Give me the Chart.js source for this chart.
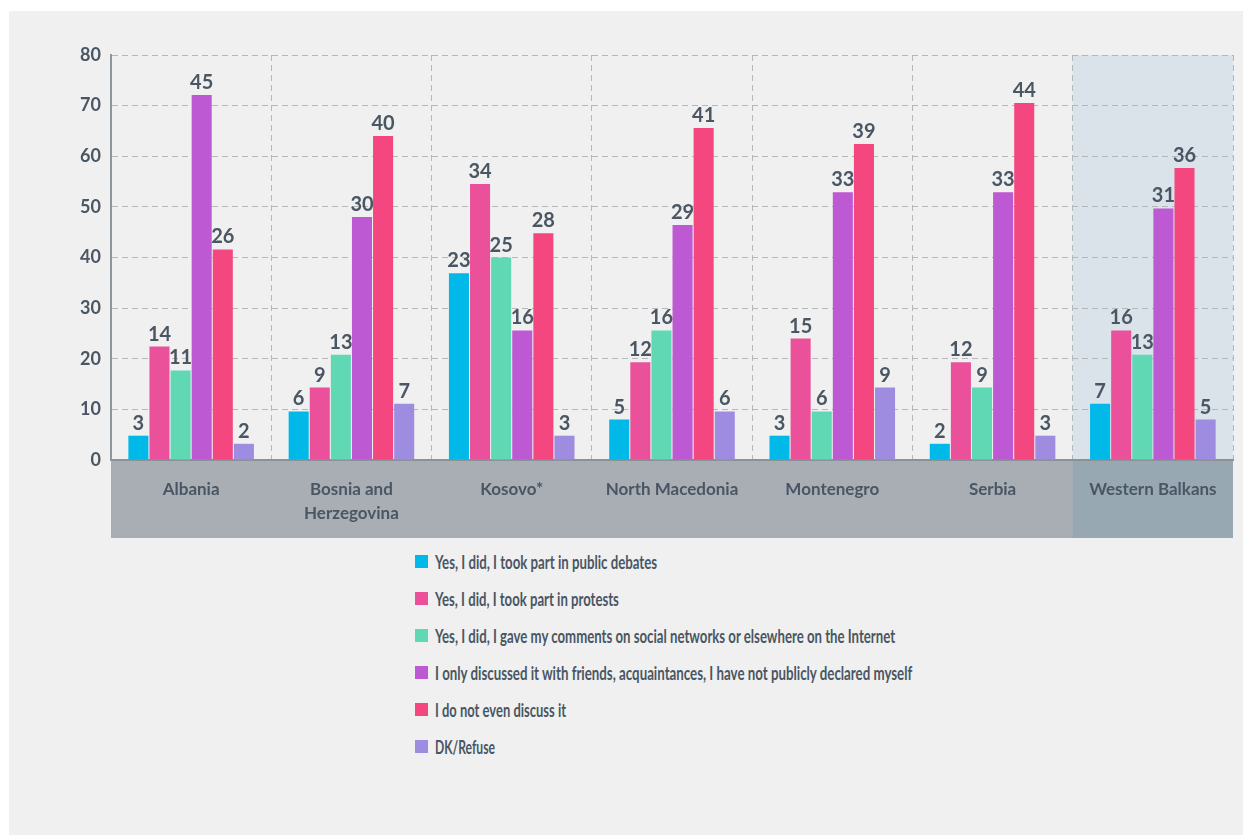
<!DOCTYPE html>
<html>
<head>
<meta charset="utf-8">
<script src="https://cdn.jsdelivr.net/npm/chart.js@4.4.1/dist/chart.umd.min.js"></script>
<style>
  html, body { margin: 0; padding: 0; background: #ffffff; }
  #panel { position: absolute; left: 9px; top: 11px; width: 1234px; height: 824px; background: #eff0ef; }
  #wrap { position: absolute; left: 0; top: 0; width: 1234px; height: 527px; }
  #legend { position: absolute; left: 406px; top: 532px; list-style: none; margin: 0; padding: 0;
            font-family: Lato, sans-serif; font-weight: bold;
            font-size: 18px; color: #4a5663; }
  #legend li { height: 37px; display: flex; align-items: center; white-space: nowrap; }
  #legend span.box { display: inline-block; width: 13px; height: 13px; margin-right: 7px; flex: none; }
  #legend span.txt { display: inline-block; transform-origin: left center; }
</style>
</head>
<body>
<div id="panel">
  <div id="wrap"><canvas id="myChart"></canvas></div>
  <ul id="legend"></ul>
</div>
<script>
const categories = ['Albania', ['Bosnia and', 'Herzegovina'], 'Kosovo*', 'North Macedonia', 'Montenegro', 'Serbia', 'Western Balkans'];
const seriesNames = [
  'Yes, I did, I took part in public debates',
  'Yes, I did, I took part in protests',
  'Yes, I did, I gave my comments on social networks or elsewhere on the Internet',
  'I only discussed it with friends, acquaintances, I have not publicly declared myself',
  'I do not even discuss it',
  'DK/Refuse'
];
const colors = ['#00b9e9', '#ea519a', '#60d8b4', '#bd59d2', '#f4477f', '#9d8ce0'];

// printed values (labels above the bars)
const debatesPct   = [3, 6, 23, 5, 3, 2, 7];
const protestsPct  = [14, 9, 34, 12, 15, 12, 16];
const commentsPct  = [11, 13, 25, 16, 6, 9, 13];
const friendsPct   = [45, 30, 16, 29, 33, 33, 31];
const noDiscussPct = [26, 40, 28, 41, 39, 44, 36];
const dkPct        = [2, 7, 3, 6, 9, 3, 5];

// bar heights as read against the 0-80 axis
const debatesBar   = [4.8, 9.6, 36.9, 8.0, 4.8, 3.2, 11.1];
const protestsBar  = [22.4, 14.3, 54.5, 19.3, 24.0, 19.3, 25.6];
const commentsBar  = [17.7, 20.8, 40.0, 25.6, 9.6, 14.3, 20.8];
const friendsBar   = [72.1, 48.0, 25.6, 46.4, 52.9, 52.9, 49.7];
const noDiscussBar = [41.6, 64.0, 44.8, 65.6, 62.4, 70.5, 57.7];
const dkBar        = [3.2, 11.1, 4.8, 9.6, 14.3, 4.8, 8.0];

const yTicks = [0, 10, 20, 30, 40, 50, 60, 70, 80];

const barSets = [debatesBar, protestsBar, commentsBar, friendsBar, noDiscussBar, dkBar];
const pctSets = [debatesPct, protestsPct, commentsPct, friendsPct, noDiscussPct, dkPct];

const FONT = 'Lato, sans-serif';
const TEXT = '#4a5663';

const bandPlugin = {
  id: 'band',
  beforeDraw(chart) {
    const c = chart.ctx, a = chart.chartArea, x = chart.scales.x;
    const half = (x.getPixelForValue(1) - x.getPixelForValue(0)) / 2;
    const wbx = x.getPixelForValue(6) - half;
    c.save();
    c.fillStyle = '#a8aeb4';
    c.fillRect(a.left, a.bottom, a.right - a.left, x.bottom - a.bottom);
    c.fillStyle = '#97a8b3';
    c.fillRect(wbx, a.bottom, a.right - wbx, x.bottom - a.bottom);
    c.fillStyle = '#d9e3e9';
    c.fillRect(wbx, a.top, a.right - wbx, a.bottom - a.top);
    c.restore();
  }
};

const valueLabels = {
  id: 'valueLabels',
  afterDatasetsDraw(chart) {
    const c = chart.ctx;
    c.save();
    c.font = 'bold 20px ' + FONT;
    c.fillStyle = TEXT;
    c.textAlign = 'center';
    c.textBaseline = 'alphabetic';
    chart.data.datasets.forEach((ds, i) => {
      chart.getDatasetMeta(i).data.forEach((bar, j) => {
        c.fillText(String(pctSets[i][j]), bar.x, bar.y - 6);
      });
    });
    c.restore();
  }
};

new Chart(document.getElementById('myChart'), {
  type: 'bar',
  data: {
    labels: categories,
    datasets: barSets.map((d, i) => ({
      label: seriesNames[i],
      data: d,
      backgroundColor: colors[i],
      categoryPercentage: 0.79,
      barPercentage: 0.95
    }))
  },
  options: {
    responsive: true,
    maintainAspectRatio: false,
    animation: false,
    layout: { padding: { top: 44, right: 10, left: 0, bottom: 0 } },
    plugins: { legend: { display: false }, tooltip: { enabled: false } },
    scales: {
      x: {
        afterFit(s) { s.height = 78; s.paddingRight = 0; s.paddingLeft = 0; },
        grid: { color: '#b4b8bb', lineWidth: 1, drawTicks: false, offset: true },
        border: { color: '#8a9298', width: 2, dash: [6, 4] },
        ticks: { color: TEXT, font: { family: FONT, weight: 'bold', size: 17, lineHeight: 1.45 },
                 padding: 17, maxRotation: 0, autoSkip: false }
      },
      y: {
        min: 0, max: 80,
        afterFit(s) { s.width = 102; },
        afterBuildTicks(s) { s.ticks = yTicks.map(v => ({ value: v })); },
        grid: { color: '#b4b8bb', lineWidth: 1, drawTicks: false },
        border: { color: '#8f969c', width: 2, dash: [6, 4] },
        ticks: { color: TEXT, font: { family: FONT, weight: 'bold', size: 18 }, padding: 10 }
      }
    }
  },
  plugins: [bandPlugin, valueLabels]
});

// legend: the reference face is a condensed one, so squeeze each line to its measured width
const legendWidths = [222, 184, 460, 477, 131, 60];
const legend = document.getElementById('legend');
seriesNames.forEach((name, i) => {
  const li = document.createElement('li');
  const box = document.createElement('span');
  box.className = 'box';
  box.style.background = colors[i];
  const txt = document.createElement('span');
  txt.className = 'txt';
  txt.textContent = name;
  li.appendChild(box);
  li.appendChild(txt);
  legend.appendChild(li);
  const w = txt.getBoundingClientRect().width;
  txt.style.transform = 'scaleX(' + (legendWidths[i] / w).toFixed(3) + ')';
});
</script>
</body>
</html>
